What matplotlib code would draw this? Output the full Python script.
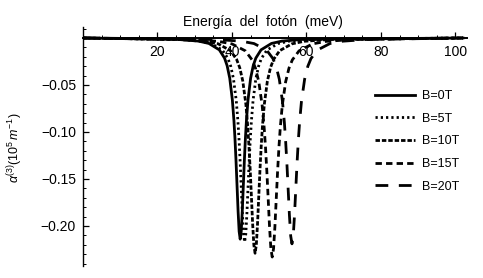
import matplotlib
matplotlib.use("Agg")
import matplotlib.pyplot as plt
from matplotlib.ticker import MultipleLocator

plt.rcParams['font.family'] = ['Liberation Sans', 'DejaVu Sans']
plt.rcParams['mathtext.fontset'] = 'custom'
plt.rcParams['mathtext.rm'] = 'Liberation Sans'
plt.rcParams['mathtext.it'] = 'Liberation Sans:italic'

labels = ["B=0T", "B=5T", "B=10T", "B=15T", "B=20T"]

x_b0 = [0, 25.4, 31.0, 33.8, 36.6, 38.0, 38.7, 39.4, 40.1, 40.52, 40.8, 41.08, 41.36, 41.64, 41.92, 42.2,
        42.48, 42.76, 43.04, 43.32, 43.6, 43.88, 44.3, 45.0, 45.7, 46.4, 47.8, 50.6, 53.4, 59.0, 102]
y_b0 = [0, -0.0015, -0.0033, -0.0058, -0.0126, -0.0214, -0.0295, -0.0428, -0.0659, -0.0877, -0.107, -0.1305,
        -0.1574, -0.1845, -0.2058, -0.214,
        -0.2058, -0.1845, -0.1574, -0.1305, -0.107, -0.0877, -0.0659, -0.0428, -0.0295, -0.0214, -0.0126,
        -0.0058, -0.0033, -0.0015, 0]

x_b5 = [0, 25.4, 31.4, 34.4, 37.4, 38.9, 39.65, 40.4, 41.15, 41.6, 41.9, 42.2, 42.5, 42.8, 43.1, 43.4,
        43.7, 44.0, 44.3, 44.6, 44.9, 45.2, 45.65, 46.4, 47.15, 47.9, 49.4, 52.4, 55.4, 61.4, 102]
y_b5 = [0, -0.0015, -0.0033, -0.0059, -0.0128, -0.0217, -0.0299, -0.0434, -0.0668, -0.0889, -0.1085, -0.1323,
        -0.1596, -0.1871, -0.2087, -0.217,
        -0.2087, -0.1871, -0.1596, -0.1323, -0.1085, -0.0889, -0.0668, -0.0434, -0.0299, -0.0217, -0.0128,
        -0.0059, -0.0033, -0.0015, 0]

x_b10 = [0, 26.4, 33.0, 36.3, 39.6, 41.25, 42.08, 42.9, 43.73, 44.22, 44.55, 44.88, 45.21, 45.54, 45.87, 46.2,
         46.53, 46.86, 47.19, 47.52, 47.85, 48.18, 48.68, 49.5, 50.33, 51.15, 52.8, 56.1, 59.4, 66.0, 102]
y_b10 = [0, -0.0016, -0.0035, -0.0062, -0.0135, -0.0229, -0.0316, -0.0458, -0.0705, -0.0939, -0.1145, -0.1396,
         -0.1684, -0.1974, -0.2202, -0.229,
         -0.2202, -0.1974, -0.1684, -0.1396, -0.1145, -0.0939, -0.0705, -0.0458, -0.0316, -0.0229, -0.0135,
         -0.0062, -0.0035, -0.0016, 0]

x_b15 = [0, 29.2, 36.4, 40.0, 43.6, 45.4, 46.3, 47.2, 48.1, 48.64, 49.0, 49.36, 49.72, 50.08, 50.44, 50.8,
         51.16, 51.52, 51.88, 52.24, 52.6, 52.96, 53.5, 54.4, 55.3, 56.2, 58.0, 61.6, 65.2, 72.4, 102]
y_b15 = [0, -0.0016, -0.0036, -0.0063, -0.0137, -0.0233, -0.0321, -0.0466, -0.0717, -0.0955, -0.1165, -0.1421,
         -0.1713, -0.2009, -0.224, -0.233,
         -0.224, -0.2009, -0.1713, -0.1421, -0.1165, -0.0955, -0.0717, -0.0466, -0.0321, -0.0233, -0.0137,
         -0.0063, -0.0036, -0.0016, 0]

x_b20 = [0, 35.7, 42.5, 45.9, 49.3, 51.0, 51.85, 52.7, 53.55, 54.06, 54.4, 54.74, 55.08, 55.42, 55.76, 56.1,
         56.44, 56.78, 57.12, 57.46, 57.8, 58.14, 58.65, 59.5, 60.35, 61.2, 62.9, 66.3, 69.7, 76.5, 102]
y_b20 = [0, -0.0015, -0.0034, -0.0059, -0.0129, -0.0219, -0.0302, -0.0438, -0.0674, -0.0898, -0.1095, -0.1335,
         -0.161, -0.1888, -0.2106, -0.219,
         -0.2106, -0.1888, -0.161, -0.1335, -0.1095, -0.0898, -0.0674, -0.0438, -0.0302, -0.0219, -0.0129,
         -0.0059, -0.0034, -0.0015, 0]

xticks = [20, 40, 60, 80, 100]
yticks = [-0.20, -0.15, -0.10, -0.05]
ytick_labels = ["\u22120.20", "\u22120.15", "\u22120.10", "\u22120.05"]

series = [(x_b0, y_b0), (x_b5, y_b5), (x_b10, y_b10), (x_b15, y_b15), (x_b20, y_b20)]
styles = ['-', (0, (0.8, 1.1)), (0, (1.6, 0.7)), (0, (2.3, 1.5)), (0, (4.6, 3.8))]

fig = plt.figure(figsize=(4.83, 2.78), dpi=100)
ax = fig.add_axes([0.1718, 0.0417, 0.7944, 0.8622])

for (xs, ys), ls, lab in zip(series, styles, labels):
    ax.plot(xs, ys, color='black', linestyle=ls, linewidth=2.0, label=lab)

ax.set_xlim(0, 103)
ax.set_ylim(-0.243, 0.012)
ax.spines['top'].set_visible(False)
ax.spines['right'].set_visible(False)
ax.spines['bottom'].set_position(('data', 0))
ax.spines['bottom'].set_linewidth(1.4)
ax.spines['left'].set_linewidth(1.0)
ax.set_xticks(xticks)
ax.set_xticklabels([str(v) for v in xticks])
ax.set_yticks(yticks)
ax.set_yticklabels(ytick_labels)
ax.xaxis.set_minor_locator(MultipleLocator(5))
ax.yaxis.set_minor_locator(MultipleLocator(0.01))
ax.tick_params(axis='both', which='major', direction='in', length=4, width=0.9, labelsize=10)
ax.tick_params(axis='both', which='minor', direction='in', length=2, width=0.7)
ax.tick_params(axis='x', which='major', pad=5)
ax.tick_params(axis='y', which='major', pad=5)

fig.text(0.545, 0.921, "Energía  del  fotón  (meV)", ha='center', va='center', fontsize=10)
fig.text(0.031, 0.47, r"$\alpha^{(3)}(10^5\,m^{-1})$", ha='center', va='center',
         rotation=90, fontsize=9)

ax.legend(loc='upper left', bbox_to_anchor=(0.776, 0.676), bbox_transform=fig.transFigure,
          frameon=False, fontsize=9, handlelength=3.2, handletextpad=0.55,
          labelspacing=0.85, borderpad=0, borderaxespad=0)

fig.savefig("out.png", dpi=100)
